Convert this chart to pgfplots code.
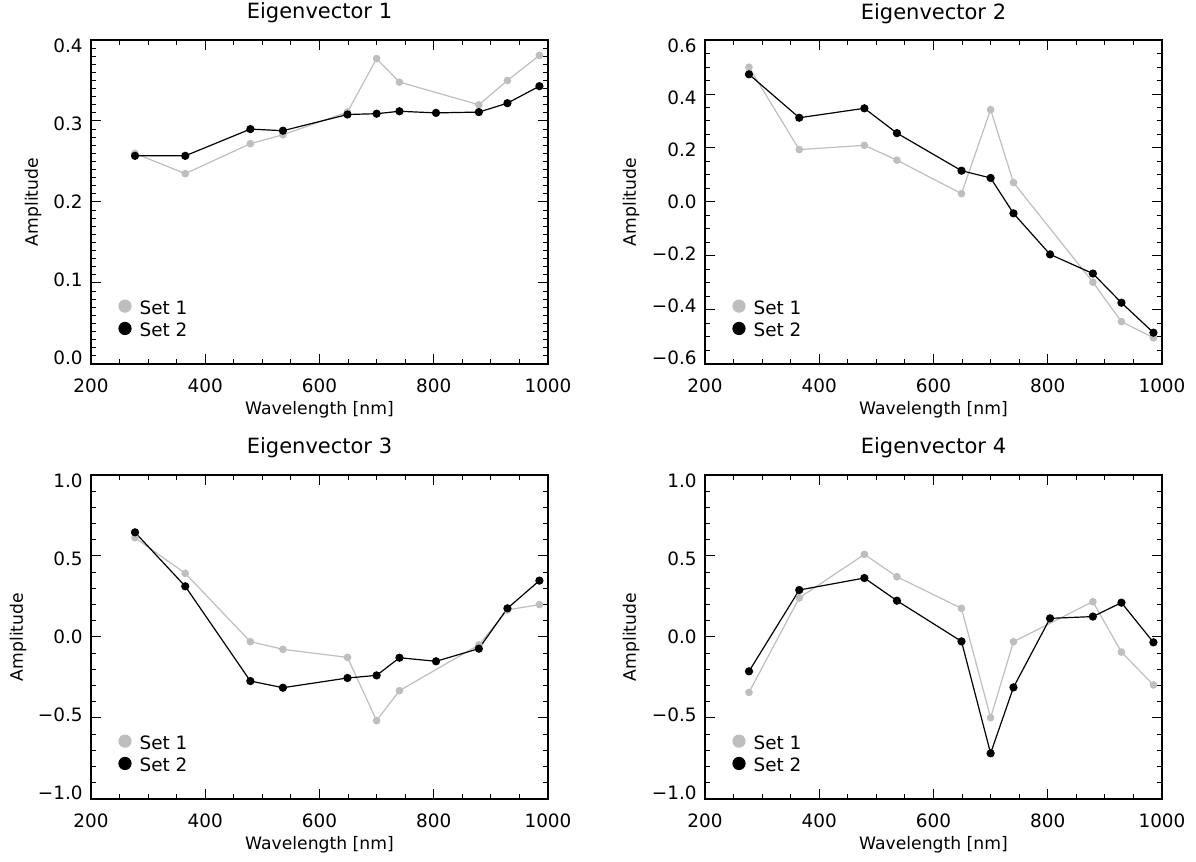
\documentclass[border=0pt]{standalone}
\usepackage{fontspec}
\setmainfont{DejaVu Sans}
\usepackage{pgfplots}
\pgfplotsset{compat=1.18}
\definecolor{setone}{RGB}{190,190,190}

\pgfplotsset{
  ev/.style={
    scale only axis, width=228.5pt, height=162pt, anchor=south west,
    xmin=200, xmax=1000, xtick={200,400,600,800,1000}, minor x tick num=3,
    tick align=inside, tick pos=both,
    major tick length=5pt, minor tick length=2.5pt,
    axis line style={line width=0.7pt},
    every tick/.style={black, line width=0.5pt},
    /pgf/number format/assume math mode=true,
    /pgf/number format/1000 sep={},
    tick label style={font=\fontsize{9.2}{11}\selectfont},
    xticklabel style={anchor=base, yshift=-14.5pt},
    yticklabel style={inner sep=0pt, xshift=-4pt},
    xlabel={Wavelength [nm]}, ylabel={Amplitude},
    label style={font=\fontsize{8.6}{10}\selectfont},
    xlabel style={at={(axis description cs:0.5,0)}, anchor=base, yshift=-25.5pt},
    title style={at={(axis description cs:0.5,1)}, anchor=base, yshift=4.5pt,
      font=\fontsize{10.5}{12}\selectfont},
    legend style={at={(axis description cs:0,0)}, anchor=south west,
      xshift=13.5pt, yshift=12.1pt, draw=none, fill=none, inner sep=0pt,
      row sep=2.4pt, column sep=4pt, font=\fontsize{9.2}{11}\selectfont,
      nodes={inner sep=0pt}},
    legend cell align=left,
    legend image code/.code={\fill (3pt,1.3pt) circle (3pt);},
  },
  s1/.style={color=setone, line width=0.6pt, mark=*, mark size=1.6pt},
  s2/.style={color=black, line width=0.6pt, mark=*, mark size=1.75pt},
}

\begin{document}
\begin{tikzpicture}
\path[use as bounding box] (0,0) rectangle (598pt,431pt);

% Eigenvector 1
\begin{axis}[ev, at={(45.5pt,249pt)}, title={Eigenvector 1},
  ymin=0, ymax=0.4, ytick={0,0.1,0.2,0.3,0.4},
  yticklabels={0.0,0.1,0.2,0.3,0.4}, minor y tick num=9,
  ylabel style={at={(axis description cs:-0.116,0.5)}, anchor=base},
  yticklabel style={yshift={-1.5pt*(\ticknum-2)}}]
  \addplot[s1] coordinates {(277,0.260)(365,0.235)(479,0.272)(536,0.283)(649,0.311)
    (700,0.377)(740,0.348)(879,0.320)(929,0.350)(985,0.381)};
  \addplot[s2] coordinates {(277,0.257)(365,0.257)(479,0.290)(536,0.288)(649,0.308)
    (700,0.309)(740,0.312)(804,0.310)(879,0.311)(929,0.322)(985,0.343)};
  \legend{Set 1, Set 2}
\end{axis}

% Eigenvector 2
\begin{axis}[ev, at={(352.5pt,249pt)}, title={Eigenvector 2},
  ymin=-0.6, ymax=0.6, ytick={-0.6,-0.4,-0.2,0,0.2,0.4,0.6},
  yticklabels={−0.6,−0.4,−0.2,0.0,0.2,0.4,0.6}, minor y tick num=3,
  ylabel style={at={(axis description cs:-0.151,0.5)}, anchor=base},
  yticklabel style={yshift={-1pt*(\ticknum-3)}}]
  \addplot[s1] coordinates {(277,0.499)(365,0.194)(479,0.210)(536,0.155)(649,0.031)
    (700,0.342)(740,0.072)(879,-0.297)(929,-0.443)(985,-0.503)};
  \addplot[s2] coordinates {(277,0.473)(365,0.312)(479,0.347)(536,0.255)(649,0.116)
    (700,0.089)(740,-0.042)(804,-0.194)(879,-0.265)(929,-0.373)(985,-0.484)};
  \legend{Set 1, Set 2}
\end{axis}

% Eigenvector 3
\begin{axis}[ev, at={(45.5pt,31.5pt)}, title={Eigenvector 3},
  ymin=-1, ymax=1, ytick={-1,-0.5,0,0.5,1},
  yticklabels={−1.0,−0.5,0.0,0.5,1.0}, minor y tick num=4,
  ylabel style={at={(axis description cs:-0.149,0.5)}, anchor=base},
  yticklabel style={yshift={-1.5pt*(\ticknum-2)}}]
  \addplot[s1] coordinates {(277,0.613)(365,0.393)(479,-0.029)(536,-0.076)(649,-0.126)
    (700,-0.516)(740,-0.331)(879,-0.049)(929,0.167)(985,0.200)};
  \addplot[s2] coordinates {(277,0.646)(365,0.313)(479,-0.272)(536,-0.313)(649,-0.253)
    (700,-0.237)(740,-0.128)(804,-0.150)(879,-0.072)(929,0.177)(985,0.348)};
  \legend{Set 1, Set 2}
\end{axis}

% Eigenvector 4
\begin{axis}[ev, at={(352.5pt,31.5pt)}, title={Eigenvector 4},
  ymin=-1, ymax=1, ytick={-1,-0.5,0,0.5,1},
  yticklabels={−1.0,−0.5,0.0,0.5,1.0}, minor y tick num=4,
  ylabel style={at={(axis description cs:-0.151,0.5)}, anchor=base},
  yticklabel style={yshift={-1.5pt*(\ticknum-2)}}]
  \addplot[s1] coordinates {(277,-0.342)(365,0.241)(479,0.510)(536,0.372)(649,0.177)
    (700,-0.498)(740,-0.029)(879,0.218)(929,-0.093)(985,-0.296)};
  \addplot[s2] coordinates {(277,-0.212)(365,0.290)(479,0.364)(536,0.224)(649,-0.027)
    (700,-0.718)(740,-0.311)(804,0.115)(879,0.126)(929,0.212)(985,-0.033)};
  \legend{Set 1, Set 2}
\end{axis}
\end{tikzpicture}
\end{document}
